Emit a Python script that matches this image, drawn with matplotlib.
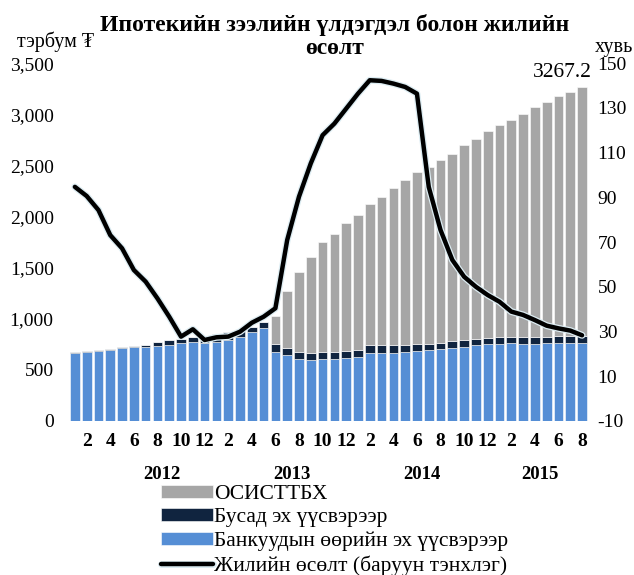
import numpy as np
import matplotlib.pyplot as plt
import matplotlib.patheffects as pe
from matplotlib.ticker import FuncFormatter, MultipleLocator

plt.rcParams["font.family"] = ["Liberation Serif", "DejaVu Serif"]
plt.rcParams["axes.unicode_minus"] = False

# monthly, Jan 2012 .. Aug 2015
month_labels = ["", "2", "", "4", "", "6", "", "8", "", "10", "", "12"] * 3 + ["", "2", "", "4", "", "6", "", "8"]
years = ["2012", "2013", "2014", "2015"]

# bank own sources (billion tugrik)
bank = [662, 675, 681, 694, 714, 727, 723, 736, 746, 759, 769, 759,
        775, 789, 824, 867, 906, 678, 645, 606, 596, 603, 606, 616,
        626, 668, 668, 668, 675, 687, 694, 701, 714, 727, 740, 750,
        756, 759, 753, 756, 759, 762, 762, 766]
# other sources
other = [13, 12, 13, 10, 9, 9, 20, 33, 43, 43, 52, 75,
         78, 78, 62, 55, 62, 75, 72, 72, 72, 72, 72, 71,
         71, 72, 72, 72, 71, 69, 59, 65, 68, 65, 65, 65,
         65, 65, 65, 65, 65, 65, 65, 62]
# total outstanding
total = [675, 687, 694, 704, 723, 736, 743, 769, 789, 802, 821, 834,
         853, 867, 886, 922, 968, 1027, 1271, 1460, 1607, 1747, 1832, 1933,
         2017, 2118, 2190, 2278, 2360, 2434, 2486, 2552, 2610, 2698, 2754, 2838,
         2891, 2940, 3008, 3076, 3119, 3184, 3220, 3267.2]
# annual growth, % (right axis)
growth = [94.7, 90.6, 84.3, 73.1, 67.2, 57.5, 52.3, 44.8, 36.6, 27.7, 31.0, 26.2,
          27.4, 27.7, 29.9, 33.9, 36.6, 40.4, 70.9, 90.3, 105.2, 117.8, 123.0, 129.7,
          136.4, 142.4, 142.1, 140.9, 139.4, 136.4, 94.7, 75.4, 62.0, 54.5, 50.0, 46.3,
          43.3, 38.9, 37.4, 35.1, 32.6, 31.4, 30.4, 28.3]

bank = np.array(bank, float)
other = np.array(other, float)
total = np.array(total, float)
osisttbx = total - bank - other
x = np.arange(len(total))

c_blue = "#558ED5"
c_dark = "#10243F"
c_gray = "#A6A6A6"

fig = plt.figure(figsize=(6.34, 5.75), dpi=100)
ax = fig.add_axes([0.1088, 0.268, 0.8186, 0.622])
ax2 = ax.twinx()

w = 0.82
b1 = ax.bar(x, bank, w, color=c_blue, edgecolor="white", linewidth=0.4,
            label="Банкуудын өөрийн эх үүсвэрээр")
b2 = ax.bar(x, other, w, bottom=bank, color=c_dark, edgecolor="white", linewidth=0.4,
            label="Бусад эх үүсвэрээр")
b3 = ax.bar(x, osisttbx, w, bottom=bank + other, color=c_gray, edgecolor="white",
            linewidth=0.4, label="ОСИСТТБХ")

ln, = ax2.plot(x, growth, color="black", lw=3.2, solid_capstyle="round",
               label="Жилийн өсөлт (баруун тэнхлэг)",
               path_effects=[pe.Stroke(linewidth=5, foreground="#dcecf2"), pe.Normal()])

ax.set_xlim(-0.5, len(x) - 0.5)
ax.set_ylim(0, 3500)
ax2.set_ylim(-10, 150)
ax.yaxis.set_major_locator(MultipleLocator(500))
ax.yaxis.set_major_formatter(FuncFormatter(lambda v, p: f"{int(v):,}"))
ax2.set_yticks(np.arange(-10, 151, 20))

ax.set_xticks(x)
ax.set_xticklabels(month_labels, fontweight="bold", fontsize=14)
ax.tick_params(axis="x", length=0, pad=9)
ax.tick_params(axis="y", length=0, pad=11, labelsize=14)
ax2.tick_params(axis="y", length=0, pad=7, labelsize=14)

for a in (ax, ax2):
    for s in a.spines.values():
        s.set_visible(False)

for yr, pos in zip(years, [7.4, 18.4, 29.4, 39.4]):
    ax.text(pos, -0.150, yr, transform=ax.get_xaxis_transform(), ha="center",
            va="center", fontweight="bold", fontsize=13.5)

ax.text(x[-1] - 1.7, total[-1] + 50, f"{total[-1]:.1f}", ha="center", va="bottom", fontsize=15.5)

fig.text(0.528, 0.937, "Ипотекийн зээлийн үлдэгдэл болон жилийн\nөсөлт", ha="center",
         va="center", fontweight="bold", fontsize=17, linespacing=1.15)
fig.text(0.087, 0.927, "тэрбум ₮", ha="center", va="center", fontsize=14.5)
fig.text(0.938, 0.917, "хувь", ha="left", va="center", fontsize=14.5)

fig.legend(handles=[b3, b2, b1, ln], loc="upper left", bbox_to_anchor=(0.254, 0.157),
           frameon=False, fontsize=15.5, handlelength=2.4, handleheight=0.55,
           labelspacing=0.2, handletextpad=0.05, borderpad=0, borderaxespad=0)

fig.savefig("out.png", dpi=100)
